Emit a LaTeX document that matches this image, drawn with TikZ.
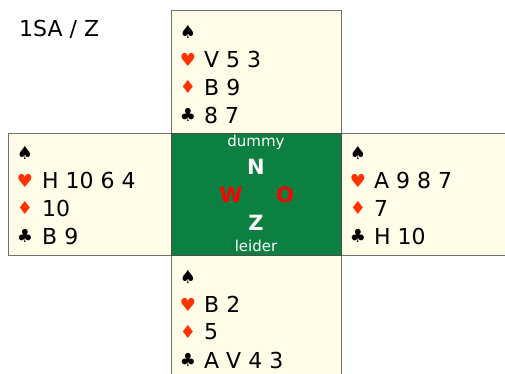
\documentclass[tikz,border=0pt]{standalone}
\usepackage{fontspec}
\setmainfont{DejaVu Sans}
\usepackage{xcolor}
\usetikzlibrary{positioning}

\definecolor{crème}{HTML}{FFFDE8}
\definecolor{tafel}{HTML}{0B8040}
\definecolor{rood}{HTML}{FF3300}
\definecolor{rand}{HTML}{707070}

\tikzset{
    vak/.style={draw=rand, line width=1pt, fill=crème},
    kaart/.style={anchor=west, inner sep=0pt, font=\fontsize{22}{26}\selectfont},
    kleur/.style={inner sep=0pt, font=\fontsize{18}{22}\selectfont},
    wind/.style={inner sep=0pt, font=\fontsize{21}{25}\selectfont\bfseries},
    klein/.style={inner sep=0pt, text=white, font=\fontsize{15}{18}\selectfont}
}

\begin{document}
\begin{tikzpicture}[x=1pt,y=-1pt]

    \clip (0,0) rectangle (505,373);
    \fill[white] (0,0) rectangle (505,373);

    % contract
    \node[kaart] (contract) at (19,29) {1SA / Z};

    %--------------------------------
    % vakken
    %--------------------------------
    \draw[vak] (171,10) rectangle (341,133);
    \draw[vak] (8,133) rectangle (171,255);
    \draw[vak] (341,133) rectangle (520,255);
    \draw[vak] (171,255) rectangle (341,390);
    \draw[draw=black!70, line width=1pt, fill=tafel] (171,133) rectangle (341,255);

    %--------------------------------
    % handen: naam/kleur-x/tekst-x/y/schoppen/harten/ruiten/klaveren
    %--------------------------------
    \foreach \nm/\sx/\tx/\ty/\sp/\he/\ru/\kl in {
        N/188/204/32/{}/{V 5 3}/{B 9}/{8 7},
        W/25/42/153/{}/{H 10 6 4}/{10}/{B 9},
        O/358/374/153/{}/{A 9 8 7}/{7}/{H 10},
        Z/188/204/277/{}/{B 2}/{5}/{A V 4 3}}{
        \node[kleur] (\nm-ss) at (\sx,\ty) {♠};
        \node[kleur, text=rood] (\nm-hs) at (\sx,\ty+27.5) {♥};
        \node[kleur, text=rood] (\nm-rs) at (\sx,\ty+55) {♦};
        \node[kleur] (\nm-ks) at (\sx,\ty+83) {♣};
        \node[kaart] (\nm-sp) at (\tx,\ty) {\sp};
        \node[kaart] (\nm-he) at (\tx,\ty+27.5) {\he};
        \node[kaart] (\nm-ru) at (\tx,\ty+55) {\ru};
        \node[kaart] (\nm-kl) at (\tx,\ty+83) {\kl};
    }

    %--------------------------------
    % tafel
    %--------------------------------
    \node[klein] (dummy) at (256,142) {dummy};
    \node[wind, text=white] (noord) at (256,167) {N};
    \node[wind, text=red] (west) at (231,195) {W};
    \node[wind, text=red] (oost) at (285,195) {O};
    \node[wind, text=white] (zuid) at (256,223) {Z};
    \node[klein] (leider) at (256,246) {leider};

\end{tikzpicture}
\end{document}
